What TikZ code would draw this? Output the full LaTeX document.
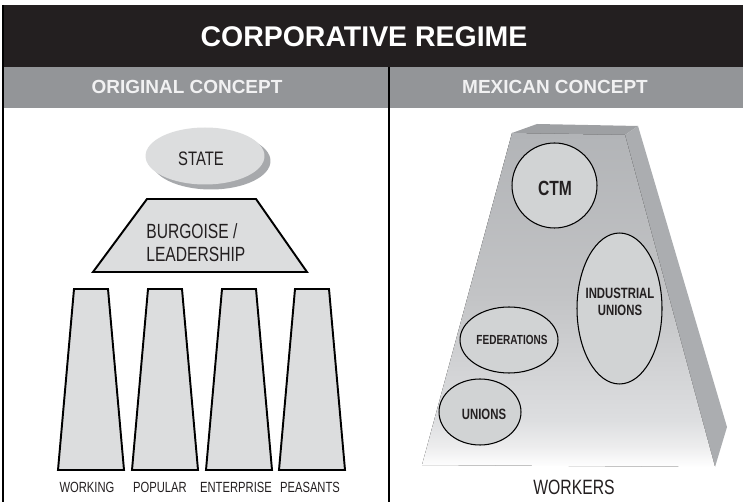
\documentclass[tikz,border=0pt]{standalone}
\usepackage{fontspec}
\setmainfont{Liberation Sans}
\newfontfamily\narrowFont[FakeStretch=0.76]{Liberation Sans}
\usetikzlibrary{positioning}
\tikzstyle{canvas} = [x = 0.02cm, y = -0.02cm]
\definecolor{headerBlack}{RGB}{35,31,32}
\definecolor{bandGray}{RGB}{147,149,152}
\definecolor{bandInk}{RGB}{241,241,242}
\definecolor{inkGray}{RGB}{35,31,32}
\definecolor{paleGray}{RGB}{220,221,222}
\definecolor{shadowGray}{RGB}{167,169,172}
\definecolor{ovalGray}{RGB}{209,211,212}
\definecolor{wallTop}{RGB}{158,160,163}
\definecolor{wallSide}{RGB}{171,173,176}
\definecolor{wallHigh}{RGB}{178,180,183}
\definecolor{wallMid}{RGB}{194,195,197}
\definecolor{wallLow}{RGB}{221,222,224}
\definecolor{wallFoot}{RGB}{237,237,238}
\pgfdeclareverticalshading{wallFade}{100bp}{color(0bp)=(white); color(25bp)=(white); color(28bp)=(wallFoot); color(32bp)=(wallLow); color(51bp)=(wallMid); color(75bp)=(wallHigh); color(100bp)=(wallHigh)}
\tikzstyle{frameLine} = [color=black, line width=1pt]
\tikzstyle{blockStyle} = [draw=black, fill=paleGray, line width=1.1pt, line join=miter]
\tikzstyle{ovalStyle} = [draw=black, fill=ovalGray, line width=.6pt]
\tikzstyle{titleText} = [text=white, font=\fontsize{16.2}{19}\selectfont\bfseries]
\tikzstyle{bandText} = [text=bandInk, font=\fontsize{10.8}{13}\selectfont\bfseries]
\tikzstyle{plainText} = [text=inkGray, inner sep=0, font=\narrowFont\fontsize{11.7}{13}\selectfont]
\tikzstyle{pillarText} = [text=inkGray, inner sep=0, font=\narrowFont\fontsize{8.4}{10}\selectfont]
\tikzstyle{ovalText} = [text=inkGray, inner sep=0, align=center, font=\narrowFont\bfseries\fontsize{8.5}{9.6}\selectfont]
% one sector pillar, centred at #1
\newcommand{\pillar}[1]{\filldraw [blockStyle] (#1 - 17, 289) -- (#1 + 17, 289) -- (#1 + 33, 470) -- (#1 - 33, 470) -- cycle;}
\begin{document}
\begin{tikzpicture}[canvas]
    \useasboundingbox (0,0) rectangle (743,502);
    % header
    \fill [headerBlack] (3,5) rectangle (743,67);
    \fill [bandGray] (3,67) rectangle (743,108);
    \draw [frameLine] (3,5) -- (3,502);
    \draw [frameLine] (389,67) -- (389,502);
    \node [titleText] (title) at (364,37) {CORPORATIVE REGIME};
    \node [bandText] (original) at (187,87) {ORIGINAL CONCEPT};
    \node [bandText] (mexican) at (555,87) {MEXICAN CONCEPT};
    % original concept
    \fill [shadowGray] (211,161) ellipse [x radius=1.19cm, y radius=.57cm];
    \fill [paleGray] (205,156) ellipse [x radius=1.19cm, y radius=.57cm];
    \node [plainText, font=\narrowFont\fontsize{11.1}{12}\selectfont] (state) at (201,159) {STATE};
    \filldraw [blockStyle] (147,199) -- (256,199) -- (307,272) -- (93,272) -- cycle;
    \node [plainText, align=left, anchor=west] (leadership) at (146,243) {BURGOISE /\\LEADERSHIP};
    \foreach \cx/\lx/\name/\label in {91/87/working/WORKING, 165/160/popular/POPULAR, 239/236/enterprise/ENTERPRISE, 312/310/peasants/PEASANTS} {
      \pillar{\cx}
      \node [pillarText] (\name) at (\lx,487) {\label};
    }
    % mexican concept
    \fill [wallTop] (512,133) -- (537,124) -- (638,126) -- (625,135) -- cycle;
    \fill [wallSide] (625,135) -- (638,126) -- (727,427) -- (715,467) -- cycle;
    \fill [shading=wallFade] (512,133) -- (625,135) -- (715,467) -- (422,465) -- cycle;
    \filldraw [ovalStyle] (554.5,185.5) circle [radius=.85cm];
    \filldraw [ovalStyle] (619.5,308.5) ellipse [x radius=.85cm, y radius=1.51cm];
    \filldraw [ovalStyle] (509,340) ellipse [x radius=.98cm, y radius=.66cm];
    \filldraw [ovalStyle] (480,412) ellipse [x radius=.82cm, y radius=.66cm];
    \node [ovalText, font=\narrowFont\bfseries\fontsize{11.7}{13}\selectfont] (ctm) at (555,188) {CTM};
    \node [ovalText] (industrial) at (620,301.5) {INDUSTRIAL\\UNIONS};
    \node [ovalText, font=\narrowFont\bfseries\fontsize{7.5}{9}\selectfont] (federations) at (512,340) {FEDERATIONS};
    \node [ovalText] (unions) at (484,414) {UNIONS};
    \node [plainText, font=\narrowFont\fontsize{11.8}{13}\selectfont] (workers) at (574,487) {WORKERS};
\end{tikzpicture}
\end{document}
